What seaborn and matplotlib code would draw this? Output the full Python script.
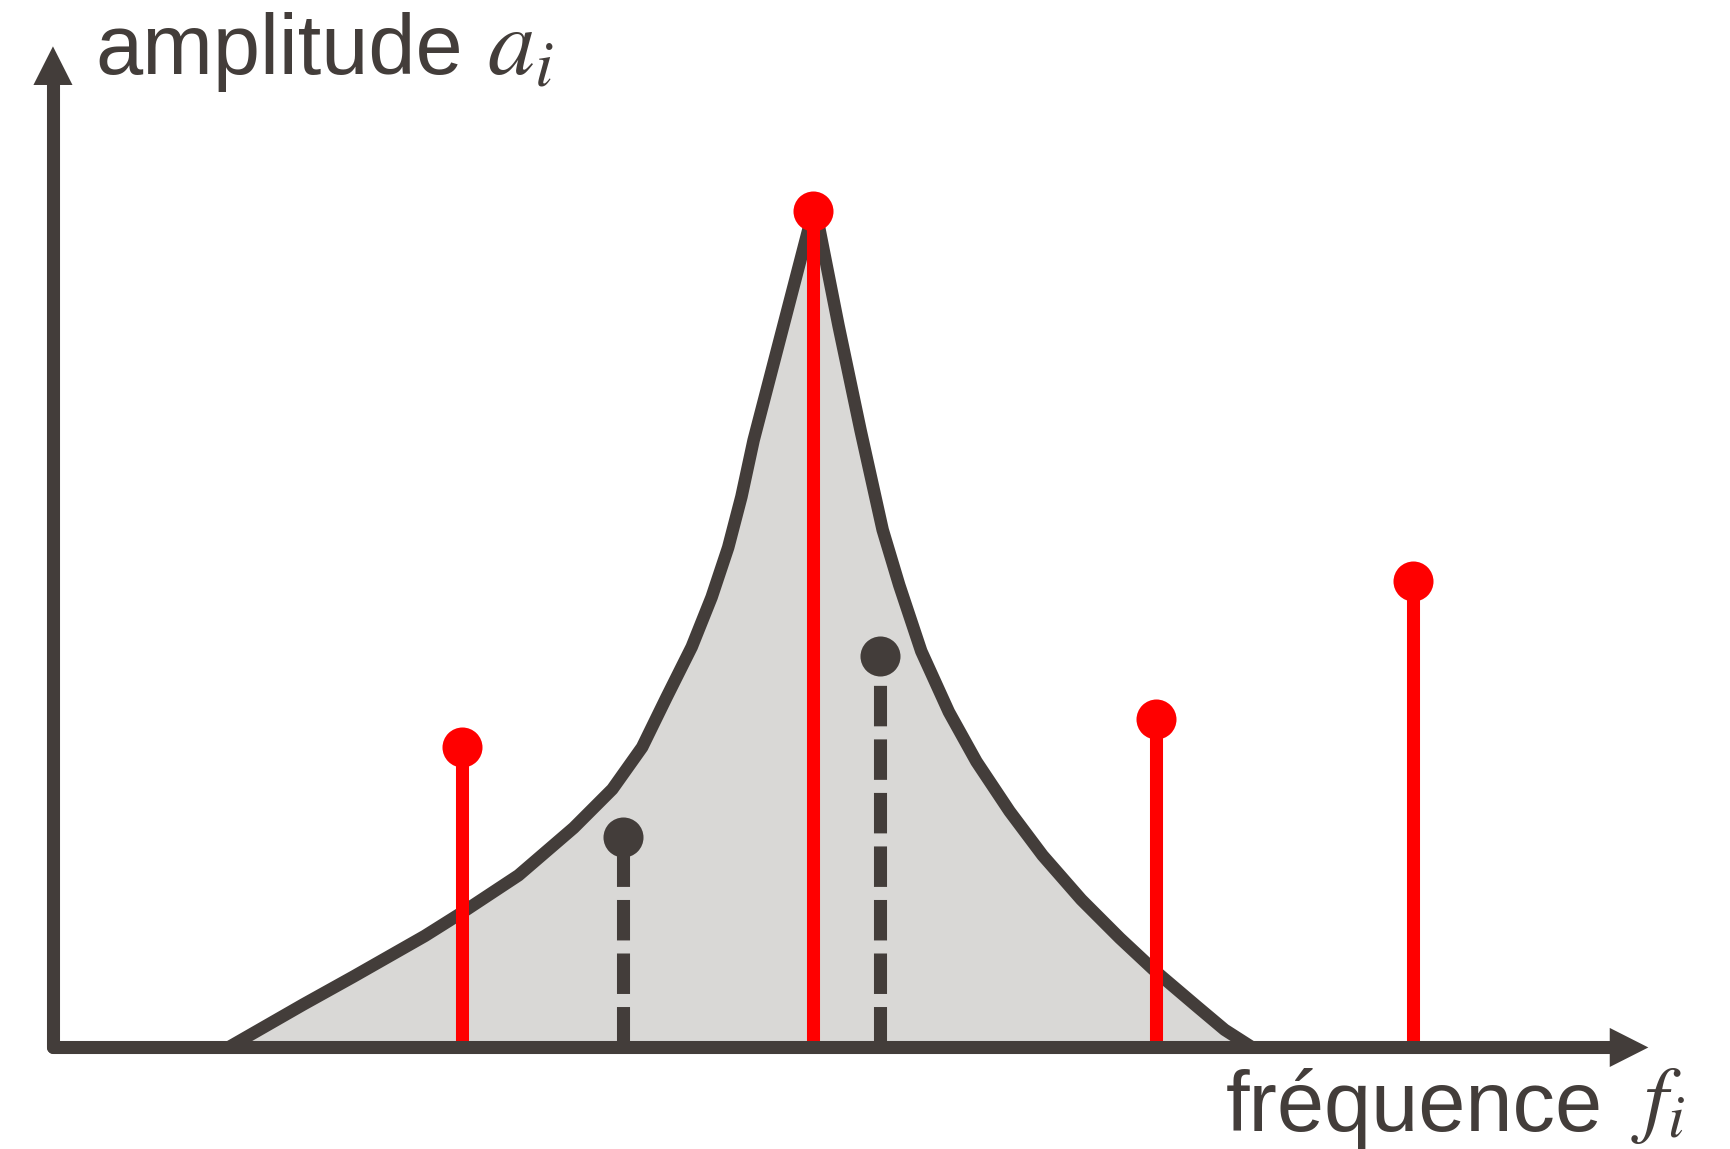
import numpy as np
import seaborn as sns
import pandas as pd
import matplotlib.pyplot as plt

# spectral envelope (frequency, amplitude)
curve_f = [1.59, 2.27, 2.72, 3.37, 3.72, 4.22, 4.72, 5.07, 5.34, 5.56, 5.79, 5.97, 6.12, 6.24,
           6.35, 6.87, 6.93, 7.12, 7.32, 7.52, 7.67, 7.87, 8.12, 8.37, 8.67, 8.97, 9.32,
           9.67, 9.97, 10.37, 10.62, 10.87]
curve_a = [0.00, 0.39, 0.64, 1.01, 1.23, 1.56, 1.99, 2.34, 2.72, 3.17, 3.63, 4.08, 4.53, 4.99,
           5.50, 7.50, 7.50, 6.54, 5.59, 4.69, 4.19, 3.59, 3.04, 2.59, 2.14, 1.74, 1.34,
           0.99, 0.71, 0.37, 0.16, 0.00]

# partials: red = solid stems, dark = dashed stems
red_f = [3.71, 6.89, 10.00, 12.33]
red_a = [2.72, 7.58, 2.98, 4.23]
dark_f = [5.17, 7.50]
dark_a = [1.91, 3.55]

DARK = '#433d3a'
RED = '#ff0000'
FILL = '#d9d8d6'

sns.set_theme(style='white')
plt.rcParams['font.family'] = ['Liberation Sans', 'DejaVu Sans']
plt.rcParams['mathtext.fontset'] = 'stix'

fig = plt.figure(figsize=(17.3, 11.49), dpi=100)
ax = fig.add_axes([0, 0, 1, 1])
ax.set_xlim(-0.48, 15.20)
ax.set_ylim(-0.92, 9.49)
ax.axis('off')

env = pd.DataFrame({'f': curve_f, 'a': curve_a})
ax.fill_between(env['f'], 0, env['a'], color=FILL, lw=0, zorder=1)
sns.lineplot(data=env, x='f', y='a', sort=False, estimator=None, color=DARK,
             lw=9, solid_joinstyle='round', solid_capstyle='round', ax=ax, zorder=2)

# stems
ax.vlines(red_f, 0, red_a, color=RED, lw=9.4, zorder=3)
for f, a in zip(dark_f, dark_a):
    ax.plot([f, f], [0, a], color=DARK, lw=9.4, dashes=(3.1, 1.0), solid_capstyle='butt',
            dash_capstyle='butt', zorder=3)

sns.scatterplot(x=red_f, y=red_a, color=RED, s=830, linewidth=0, ax=ax, zorder=4)
sns.scatterplot(x=dark_f, y=dark_a, color=DARK, s=830, linewidth=0, ax=ax, zorder=4)

# axes with arrow heads
ax.plot([0, 14.15], [0, 0], color=DARK, lw=9.4, solid_capstyle='round', zorder=5)
ax.plot([0, 0], [0, 8.76], color=DARK, lw=9.4, solid_capstyle='round', zorder=5)
ax.fill([14.11, 14.46, 14.11], [-0.177, 0, 0.177], color=DARK, lw=0, zorder=5)
ax.fill([-0.177, 0, 0.177], [8.72, 9.07, 8.72], color=DARK, lw=0, zorder=5)

fig.text(0.0549, 0.9356, 'amplitude', fontsize=61, color=DARK, ha='left', va='baseline')
fig.text(0.2815, 0.9356, r'$a_i$', fontsize=68, color=DARK, ha='left', va='baseline')
fig.text(0.7087, 0.0157, 'fréquence', fontsize=61, color=DARK, ha='left', va='baseline')
fig.text(0.9425, 0.0200, r'$f_i$', fontsize=62, color=DARK, ha='left', va='baseline')

fig.savefig('out.png', dpi=100)
